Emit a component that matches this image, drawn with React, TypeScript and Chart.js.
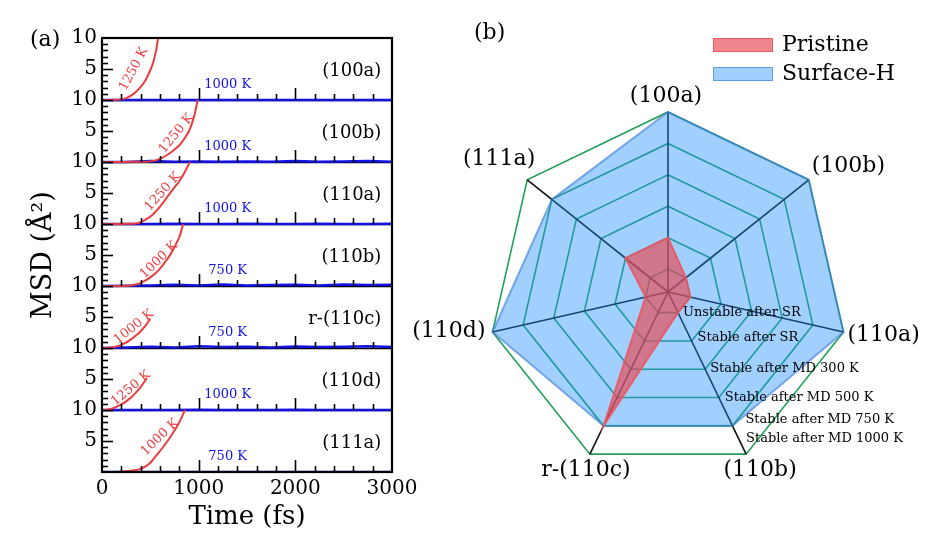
import React, { useEffect, useRef } from 'react';
import { Chart, registerables } from 'chart.js';

Chart.register(...registerables);

const SERIF = '"DejaVu Serif", "Liberation Serif", serif';

// ---------------- Panel (a): MSD vs time ----------------
const surfaces = ['(100a)', '(100b)', '(110a)', '(110b)', 'r-(110c)', '(110d)', '(111a)'];
const hotTemps = ['1250 K', '1250 K', '1250 K', '1000 K', '1000 K', '1250 K', '1000 K'];
const coolTemps = ['1000 K', '1000 K', '1000 K', '750 K', '750 K', '1000 K', '750 K'];
const xTickValues = [0, 1000, 2000, 3000];
const yTickLabels = ['5', '10'];

// hot (red) runs: time (fs) and MSD (A^2)
const hotT_100a = [0, 100, 200, 250, 300, 350, 400, 450, 500, 530, 560, 580];
const hotV_100a = [0, 0.02, 0.1, 0.3, 0.7, 1.3, 2.1, 3.2, 4.8, 6.1, 8.0, 10];
const hotT_100b = [0, 200, 400, 500, 600, 700, 750, 800, 850, 900, 930, 960, 990];
const hotV_100b = [0, 0.02, 0.05, 0.1, 0.5, 1.4, 2.0, 2.7, 3.7, 5.0, 6.2, 7.8, 10];
const hotT_110a = [0, 200, 350, 400, 450, 500, 550, 600, 650, 700, 750, 800, 850, 910];
const hotV_110a = [0, 0.02, 0.1, 0.3, 0.7, 1.2, 1.9, 2.8, 3.8, 4.9, 5.9, 6.9, 8.2, 10];
const hotT_110b = [0, 200, 300, 350, 400, 450, 500, 550, 600, 650, 700, 750, 800, 840];
const hotV_110b = [0, 0.02, 0.1, 0.25, 0.5, 0.9, 1.4, 2.0, 2.8, 3.8, 4.9, 6.3, 7.9, 10];
const hotT_110c = [0, 50, 100, 150, 200, 250, 300, 350, 400, 450, 500];
const hotV_110c = [0, 0.02, 0.1, 0.25, 0.5, 0.9, 1.4, 2.0, 2.7, 3.6, 4.7];
const hotT_110d = [0, 50, 100, 150, 200, 250, 300, 350, 400, 465];
const hotV_110d = [0, 0.05, 0.2, 0.5, 0.9, 1.4, 2.0, 2.8, 3.7, 5.2];
const hotT_111a = [0, 200, 300, 400, 450, 500, 569, 650, 734, 800, 858];
const hotV_111a = [0, 0.05, 0.2, 0.5, 0.9, 1.5, 2.8, 4.4, 6.3, 8.0, 10];

// cool (blue) runs, sampled every 250 fs
const coolT = [0, 250, 500, 750, 1000, 1250, 1500, 1750, 2000, 2250, 2500, 2750, 3000];
const coolV_100a = [0, 0, 0, 0, 0, 0, 0, 0, 0, 0, 0, 0, 0];
const coolV_100b = [0, 0, 0.15, 0.05, 0.1, 0.05, 0.1, 0.05, 0.15, 0.05, 0.1, 0.15, 0.05];
const coolV_110a = [0, 0, 0, 0.05, 0, 0, 0.05, 0, 0, 0.05, 0, 0, 0.05];
const coolV_110b = [0, 0.05, 0.1, 0.2, 0.1, 0.25, 0.1, 0.15, 0.2, 0.1, 0.25, 0.15, 0.2];
const coolV_110c = [0, 0.1, 0.2, 0.1, 0.3, 0.15, 0.2, 0.1, 0.25, 0.15, 0.2, 0.3, 0.15];
const coolV_110d = [0, 0, 0, 0, 0.05, 0, 0, 0, 0.05, 0, 0, 0, 0];
const coolV_111a = [0, 0, 0, 0, 0, 0, 0, 0, 0, 0, 0, 0, 0];

const hotTimes = [hotT_100a, hotT_100b, hotT_110a, hotT_110b, hotT_110c, hotT_110d, hotT_111a];
const hotMsd = [hotV_100a, hotV_100b, hotV_110a, hotV_110b, hotV_110c, hotV_110d, hotV_111a];
const coolMsd = [coolV_100a, coolV_100b, coolV_110a, coolV_110b, coolV_110c, coolV_110d, coolV_111a];

// annotation placement for the rotated temperature labels (time, msd, angle)
const hotLabelAt = [
  [330, 5.0, -62], [770, 4.6, -51], [630, 5.2, -48], [590, 4.2, -44],
  [330, 3.4, -39], [300, 3.5, -40], [600, 5.6, -44],
];

const RED = '#ec3b3f';
const BLUE = '#1212e4';
const PANEL_H = 10;
const N = surfaces.length;
const baseOf = (k: number) => (N - 1 - k) * PANEL_H;

// ---------------- Panel (b): radar ----------------
const facets = ['(100a)', '(100b)', '(110a)', '(110b)', 'r-(110c)', '(110d)', '(111a)'];
const pristine = [2, 1, 1, 1, 5, 1, 2];
const surfaceH = [6, 6, 6, 5, 5, 6, 5];
const stabilityLevels = [
  'Unstable after SR', 'Stable after SR', 'Stable after MD 300 K',
  'Stable after MD 500 K', 'Stable after MD 750 K', 'Stable after MD 1000 K',
];
const levelValues = [1, 2, 3, 4, 5, 6];
const radarMin = 0.27;
const radarMax = 6;

const RADAR_LEFT = 400;

const facetLabelOffsets: [number, number, CanvasTextAlign][] = [
  [-2, -16, 'center'], [3, -13, 'left'], [4, 3, 'left'], [14, 16, 'center'],
  [-4, 16, 'center'], [-7, -1, 'right'], [8, -20, 'right'],
];
const levelLabelOffsets = [[5, 0], [6, -3], [5, -1], [6, 0], [13, -6], [0, -16]];

const panelAPlugin = {
  id: 'panelA',
  beforeDatasetsDraw(chart: any) {
    const { ctx, chartArea: ca, scales } = chart;
    const y = scales.y;
    ctx.save();
    ctx.strokeStyle = '#000';
    ctx.lineWidth = 1.5;
    for (let k = 1; k < N; k++) {
      const py = Math.round(y.getPixelForValue(k * PANEL_H)) + 0.5;
      ctx.beginPath();
      ctx.moveTo(ca.left, py);
      ctx.lineTo(ca.right, py);
      ctx.stroke();
    }
    ctx.restore();
  },
  afterDatasetsDraw(chart: any) {
    const { ctx, chartArea: ca, scales } = chart;
    const x = scales.x;
    const y = scales.y;
    ctx.save();
    ctx.strokeStyle = '#000';
    ctx.lineWidth = 1.6;
    for (let k = 0; k < N; k++) {
      const py = y.getPixelForValue(baseOf(k));
      for (let t = 200; t < 3000; t += 200) {
        const px = Math.round(x.getPixelForValue(t)) + 0.5;
        const len = t % 1000 === 0 ? 12 : 6;
        ctx.beginPath();
        ctx.moveTo(px, py);
        ctx.lineTo(px, py - len);
        ctx.stroke();
      }
    }
    for (let v = 1; v < N * PANEL_H; v++) {
      const py = Math.round(y.getPixelForValue(v)) + 0.5;
      const len = v % 5 === 0 ? 11 : 6;
      ctx.beginPath();
      ctx.moveTo(ca.left, py);
      ctx.lineTo(ca.left + len, py);
      ctx.stroke();
    }
    ctx.lineWidth = 2.2;
    ctx.strokeRect(ca.left, ca.top, ca.right - ca.left, ca.bottom - ca.top);

    for (let k = 0; k < N; k++) {
      const b = baseOf(k);
      ctx.fillStyle = '#000';
      ctx.font = `18px ${SERIF}`;
      ctx.textAlign = 'right';
      ctx.textBaseline = 'middle';
      ctx.fillText(surfaces[k], x.getPixelForValue(2890), y.getPixelForValue(b + 4.6));

      ctx.fillStyle = BLUE;
      ctx.font = `13px ${SERIF}`;
      ctx.textAlign = 'center';
      ctx.fillText(coolTemps[k], x.getPixelForValue(1300), y.getPixelForValue(b + 2.5));

      const [lt, lv, ang] = hotLabelAt[k];
      ctx.save();
      ctx.translate(x.getPixelForValue(lt), y.getPixelForValue(b + lv));
      ctx.rotate((ang * Math.PI) / 180);
      ctx.fillStyle = RED;
      ctx.font = `13px ${SERIF}`;
      ctx.textAlign = 'center';
      ctx.textBaseline = 'middle';
      ctx.fillText(hotTemps[k], 0, 0);
      ctx.restore();
    }
    ctx.fillStyle = '#000';
    ctx.font = `22px ${SERIF}`;
    ctx.textAlign = 'left';
    ctx.textBaseline = 'middle';
    ctx.fillText('(a)', 30, 40);
    ctx.restore();
  },
};

const panelBPlugin = {
  id: 'panelB',
  afterDraw(chart: any) {
    const { ctx } = chart;
    const r = chart.scales.r;
    ctx.save();
    ctx.fillStyle = '#000';
    ctx.font = `22px ${SERIF}`;
    ctx.textBaseline = 'middle';
    facets.forEach((lab, i) => {
      const p = r.getPointPosition(i, r.drawingArea);
      const [dx, dy, al] = facetLabelOffsets[i];
      ctx.textAlign = al;
      ctx.fillText(lab, p.x + dx, p.y + dy);
    });
    ctx.font = `13px ${SERIF}`;
    ctx.textAlign = 'left';
    stabilityLevels.forEach((lab, i) => {
      const p = r.getPointPositionForValue(3, levelValues[i]);
      const [dx, dy] = levelLabelOffsets[i];
      ctx.fillText(lab, p.x + dx, p.y + dy);
    });
    ctx.font = `22px ${SERIF}`;
    const lx = 713 - RADAR_LEFT;
    chart.data.datasets.forEach((ds: any, i: number) => {
      const top = 38 + i * 29;
      ctx.fillStyle = ds.backgroundColor;
      ctx.fillRect(lx, top, 60, 14);
      ctx.strokeStyle = ds.borderColor;
      ctx.lineWidth = 1;
      ctx.strokeRect(lx + 0.5, top + 0.5, 59, 13);
      ctx.fillStyle = '#000';
      ctx.fillText(ds.label, lx + 69, top + 7);
    });
    ctx.fillText('(b)', 474 - RADAR_LEFT, 33);
    ctx.restore();
  },
};

export default function App() {
  const leftRef = useRef<HTMLCanvasElement>(null);
  const rightRef = useRef<HTMLCanvasElement>(null);

  useEffect(() => {
    const datasets: any[] = [];
    for (let k = 0; k < N; k++) {
      const b = baseOf(k);
      datasets.push({
        label: `${surfaces[k]} ${hotTemps[k]}`,
        data: hotTimes[k].map((t, i) => ({ x: t, y: b + hotMsd[k][i] })),
        borderColor: RED,
        borderWidth: 2,
        pointRadius: 0,
        fill: false,
        tension: 0.3,
      });
    }
    for (let k = 0; k < N; k++) {
      const b = baseOf(k);
      datasets.push({
        label: `${surfaces[k]} ${coolTemps[k]}`,
        data: coolT.map((t, i) => ({ x: t, y: b + coolMsd[k][i] })),
        borderColor: BLUE,
        borderWidth: 2.5,
        pointRadius: 0,
        fill: false,
      });
    }
    const tickFont = { family: SERIF, size: 20 };
    const left = new Chart(leftRef.current!, {
      type: 'line',
      data: { datasets },
      plugins: [panelAPlugin],
      options: {
        animation: false,
        responsive: false,
        devicePixelRatio: 1,
        layout: { padding: { left: 0, top: 38, right: 78, bottom: 0 } },
        plugins: { legend: { display: false }, tooltip: { enabled: false } },
        scales: {
          x: {
            type: 'linear',
            min: 0,
            max: 3000,
            afterBuildTicks: (s: any) => { s.ticks = xTickValues.map((v) => ({ value: v })); },
            ticks: {
              font: tickFont, color: '#000', padding: 5, maxRotation: 0, autoSkip: false,
              callback: (v: any) => String(v),
            },
            grid: { display: false, drawTicks: false },
            border: { display: false },
            title: {
              display: true, text: 'Time (fs)', color: '#000',
              font: { family: SERIF, size: 26 }, padding: { top: 0, bottom: 17 },
            },
            afterFit: (s: any) => { s.height = 78; },
          },
          y: {
            type: 'linear',
            min: 0,
            max: N * PANEL_H,
            ticks: {
              stepSize: 5,
              autoSkip: false,
              font: tickFont,
              color: '#000',
              padding: 5,
              callback: (v: any) => (v === 0 ? '' : v % 10 === 0 ? yTickLabels[1] : yTickLabels[0]),
            },
            grid: { display: false, drawTicks: false },
            border: { display: false },
            title: {
              display: true, text: 'MSD (Å²)', color: '#000',
              font: { family: SERIF, size: 27 }, padding: { top: 28, bottom: 0 },
            },
            afterFit: (s: any) => { s.width = 102; },
          },
        },
      } as any,
    });

    const right = new Chart(rightRef.current!, {
      type: 'radar',
      data: {
        labels: facets,
        datasets: [
          {
            label: 'Pristine',
            data: pristine,
            backgroundColor: 'rgba(232,72,82,0.66)',
            borderColor: 'rgba(236,88,96,0.9)',
            borderWidth: 2,
            pointRadius: 0,
            fill: true,
          },
          {
            label: 'Surface-H',
            data: surfaceH,
            backgroundColor: 'rgba(30,144,255,0.42)',
            borderColor: 'rgba(60,120,215,0.6)',
            borderWidth: 2,
            pointRadius: 0,
            fill: true,
          },
        ],
      },
      plugins: [panelBPlugin],
      options: {
        animation: false,
        responsive: false,
        devicePixelRatio: 1,
        layout: { padding: { left: 488 - RADAR_LEFT, top: 112, right: 99, bottom: 78 } },
        plugins: { legend: { display: false }, tooltip: { enabled: false } },
        elements: { line: { tension: 0 } },
        scales: {
          r: {
            min: radarMin,
            max: radarMax,
            afterBuildTicks: (s: any) => {
              s.ticks = [radarMin, ...levelValues].map((v) => ({ value: v }));
            },
            ticks: { display: false },
            grid: { color: '#25a05c', lineWidth: 1.6 },
            angleLines: { color: '#111', lineWidth: 1.6 },
            pointLabels: { display: false },
          },
        },
      } as any,
    });
    return () => {
      left.destroy();
      right.destroy();
    };
  }, []);

  const rw = 947 - RADAR_LEFT;
  return (
    <div style={{ position: 'absolute', left: 0, top: 0, width: 947, height: 550, background: '#fff' }}>
      <canvas ref={leftRef} width={470} height={550} style={{ position: 'absolute', left: 0, top: 0, width: 470, height: 550 }} />
      <canvas ref={rightRef} width={rw} height={550} style={{ position: 'absolute', left: RADAR_LEFT, top: 0, width: rw, height: 550 }} />
    </div>
  );
}
